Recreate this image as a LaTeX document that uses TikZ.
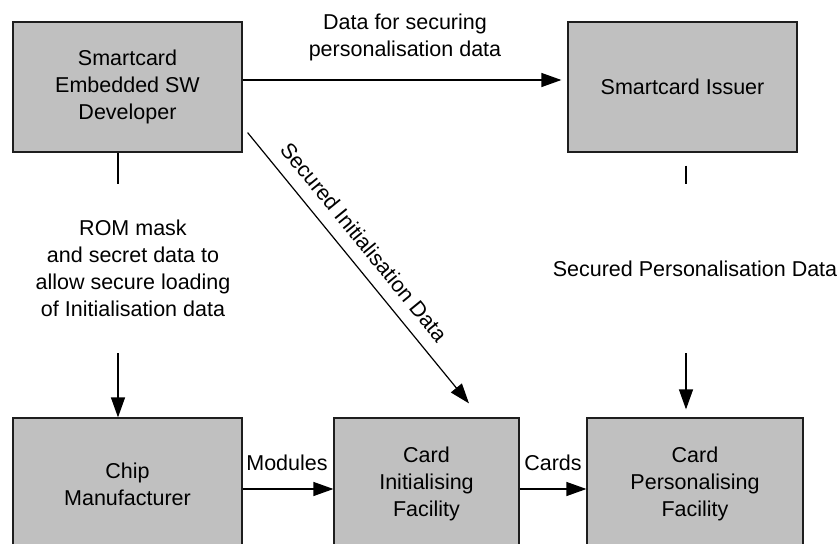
\documentclass[tikz,border=0pt]{standalone}
\usepackage{fontspec}
\setmainfont{Liberation Sans}
\usetikzlibrary{arrows.meta,calc}
\definecolor{boxgray}{RGB}{192,192,192}
\definecolor{edgecol}{RGB}{30,30,30}
\newcommand{\lblfont}{\fontsize{21.5}{27}\selectfont}
\begin{document}
\begin{tikzpicture}[x=1pt,y=-1pt,
  box/.style={draw=edgecol,fill=boxgray,line width=1.2pt,inner sep=0pt,align=center,font=\lblfont,minimum height=130pt},
  lbl/.style={inner sep=0pt,align=center,font=\lblfont},
  link/.style={draw=black,line width=1.2pt},
  arr/.style={link,-{Triangle[length=20pt,width=14pt]}}]
\useasboundingbox (0,0) rectangle (839,544);
\clip (0,0) rectangle (839,544);
% boxes
\node[box,minimum width=229pt] (dev) at (127.5,87) {Smartcard\\Embedded SW\\Developer};
\node[box,minimum width=229pt] (iss) at (682.5,87) {Smartcard Issuer};
\node[box,minimum width=229pt,minimum height=132pt] (chip) at (127.5,484) {Chip\\Manufacturer};
\node[box,minimum width=185pt,minimum height=132pt] (init) at (426.5,484) {Card\\Initialising\\Facility};
\node[box,minimum width=216pt,minimum height=132pt] (pers) at (695,484) {Card\\Personalising\\Facility};
% top arrow
\draw[arr] ([yshift=7pt]dev.east) -- ([xshift=-6pt,yshift=7pt]iss.west);
\node[lbl] (tlab) at (405,37) {Data for securing\\personalisation data};
% left: ROM mask
\draw[link] ([xshift=-9.5pt]dev.south) -- ([xshift=-9.5pt,yshift=-31pt]dev.south);
\draw[arr] ([xshift=-9.5pt,yshift=64pt]chip.north) -- ([xshift=-9.5pt]chip.north);
\node[lbl] (rlab) at (133,268.5) {ROM mask\\and secret data to\\allow secure loading\\of Initialisation data};
% right: secured personalisation data
\draw[link] ([xshift=3.5pt,yshift=-13pt]iss.south) -- ([xshift=3.5pt,yshift=-31pt]iss.south);
\draw[arr] ([xshift=-9pt,yshift=64pt]pers.north) -- ([xshift=-9pt,yshift=8pt]pers.north);
\node[lbl] (plab) at (695,269) {Secured Personalisation Data};
% diagonal
\draw[arr] ([xshift=5pt,yshift=20pt]dev.south east) -- ([xshift=42.5pt,yshift=14pt]init.north);
\node[lbl,rotate=-50.8] (dlab) at (364,242) {Secured Initialisation Data};
% bottom arrows
\draw[arr] ([yshift=-5pt]chip.east) -- ([yshift=-5pt]init.west);
\node[lbl] (mlab) at (287,463) {Modules};
\draw[arr] ([yshift=-5pt]init.east) -- ([yshift=-5pt]pers.west);
\node[lbl] (clab) at (553,463) {Cards};
\end{tikzpicture}
\end{document}
